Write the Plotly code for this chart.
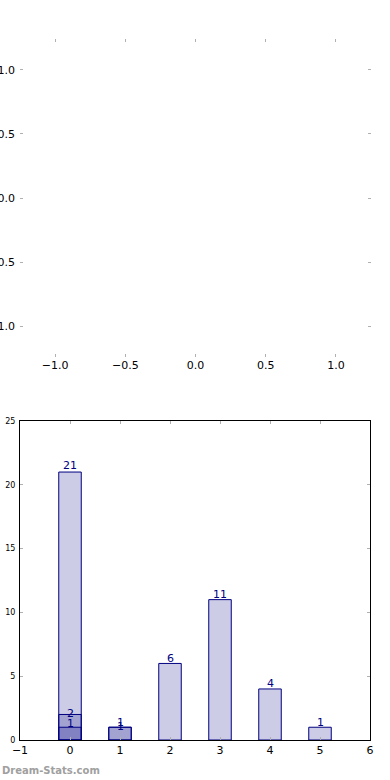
import plotly.graph_objects as go

categories = [0, 1, 2, 3, 4, 5]
series_all = [21, 1, 6, 11, 4, 1]
series_b = [2, 1, 0, 0, 0, 0]
series_c = [1, 0, 0, 0, 0, 0]
top_ticks = [-1.0, -0.5, 0.0, 0.5, 1.0]
top_ticklabels = ["\u22121.0", "\u22120.5", "0.0", "0.5", "1.0"]
bottom_xticks = [-1, 0, 1, 2, 3, 4, 5, 6]
bottom_xticklabels = ["\u22121", "0", "1", "2", "3", "4", "5", "6"]
bottom_yticks = [0, 5, 10, 15, 20, 25]

FONT = "DejaVu Sans"
NAVY = "#000080"
FILL = "rgba(0,0,128,0.2)"
TICKC = "#b0b0b0"
W, H = 390, 780

fig = go.Figure()

label_shift = {"a": 5, "b": 1, "c": 4}
for key, vals in (("a", series_all), ("b", series_b), ("c", series_c)):
    xs = [c for c, v in zip(categories, vals) if v]
    ys = [v for v in vals if v]
    fig.add_trace(go.Bar(
        x=xs, y=ys, width=0.45, xaxis="x2", yaxis="y2",
        marker=dict(color=FILL, line=dict(color=NAVY, width=1)),
        showlegend=False, hoverinfo="skip",
    ))
    for x, y in zip(xs, ys):
        fig.add_annotation(
            x=x, y=y, xref="x2", yref="y2", text=str(y), showarrow=False,
            yanchor="middle", yshift=label_shift[key] + (2 if y > 15 else 0),
            font=dict(family=FONT, size=11, color=NAVY),
        )

# empty top axes
fig.add_trace(go.Scatter(x=[], y=[], xaxis="x", yaxis="y", showlegend=False))

axis_common = dict(ticks="inside", ticklen=3, tickwidth=1, tickcolor=TICKC,
                   showgrid=False, zeroline=False, mirror="ticks", automargin=False)
xdom = [20 / W, 370 / W]

fig.update_layout(
    width=W, height=H,
    margin=dict(l=0, r=0, t=0, b=0),
    paper_bgcolor="white", plot_bgcolor="white",
    font=dict(family=FONT, color="black"),
    barmode="overlay",
    xaxis=dict(domain=[20 / W, 371 / W], anchor="y", range=[-1.25, 1.25],
               tickvals=top_ticks, ticktext=top_ticklabels,
               tickfont=dict(size=11), showline=False, **axis_common),
    yaxis=dict(domain=[1 - 357 / H, 1 - 39 / H], anchor="x", range=[-1.24, 1.24],
               tickvals=top_ticks, ticktext=top_ticklabels, ticklabelstandoff=4,
               tickfont=dict(size=11), showline=False, **axis_common),
    xaxis2=dict(domain=xdom, anchor="y2", range=[-1, 6],
                tickvals=bottom_xticks, ticktext=bottom_xticklabels,
                tickfont=dict(size=11), showline=True, linecolor="black", linewidth=1,
                **axis_common),
    yaxis2=dict(domain=[1 - 740 / H, 1 - 421 / H], anchor="x2", range=[0, 25],
                tickvals=bottom_yticks, ticklabelstandoff=2,
                tickfont=dict(size=8), showline=True, linecolor="black", linewidth=1,
                **axis_common),
)

fig.add_annotation(
    xref="paper", yref="paper", x=0, y=(H - 770) / H,
    xanchor="left", yanchor="middle", showarrow=False,
    text="<b>Dream-Stats.com</b>",
    font=dict(family=FONT, size=10, color="#a0a0a0"),
)

fig.write_html("out.html")
